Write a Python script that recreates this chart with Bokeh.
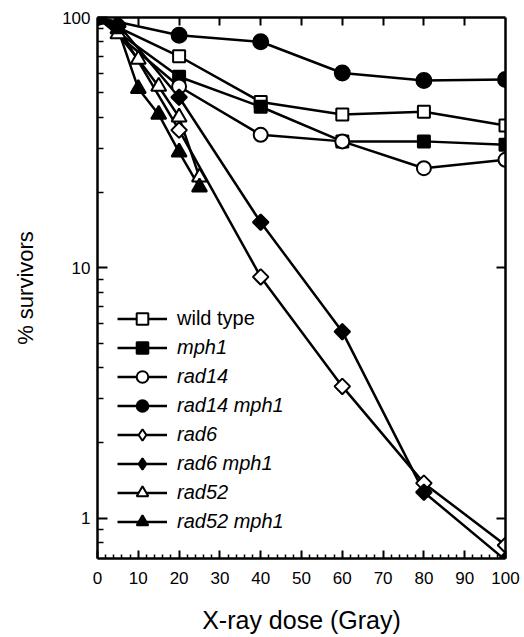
import numpy as np
from bokeh.plotting import figure
from bokeh.models import (LinearAxis, LogAxis, FixedTicker, Legend, LegendItem,
                          NumeralTickFormatter, Range1d)
from bokeh.embed import file_html
from bokeh.resources import INLINE

# ---- data ----
dose_main = [0, 20, 40, 60, 80, 100]
dose_rad6 = [0, 5, 20, 40, 60, 80, 100]
dose_rad52 = [0, 5, 10, 15, 20, 25]

wild_type = [100, 70, 46, 41, 42, 37]
mph1 = [100, 58, 44, 32, 32, 31]
rad14 = [100, 53, 34, 32, 25, 27]
rad14_mph1 = [100, 85, 80, 60, 56, 56.5]
rad6 = [100, 92, 35.5, 9.2, 3.36, 1.38, 0.78]
rad6_mph1 = [100, 94, 48, 15.2, 5.56, 1.27, 0.68]
rad52 = [100, 86, 68, 53, 40, 23]
rad52_mph1 = [100, 90, 52, 41, 29, 21]

series_labels = ["wild type", "mph1", "rad14", "rad14 mph1",
                 "rad6", "rad6 mph1", "rad52", "rad52 mph1"]

x_ticks = list(range(0, 101, 10))
x_minor = [v for v in range(0, 101, 2) if v % 10 != 0]
y_ticks = [1, 10, 100]
y_minor = [0.8, 0.9] + list(range(2, 10)) + list(range(20, 100, 10))
x_title = "X-ray dose (Gray)"
y_title = "% survivors"

FONT = "Liberation Sans"

p = figure(width=523, height=636, output_backend="svg", toolbar_location=None,
           y_axis_type="log", x_range=Range1d(0, 100), y_range=Range1d(0.69, 100),
           min_border_left=97, min_border_right=18, min_border_top=17,
           min_border_bottom=76)
p.xgrid.visible = False
p.ygrid.visible = False
p.outline_line_color = None
p.background_fill_color = "white"

def style_axis(ax, tick_in, minor_in):
    ax.axis_line_width = 2.5
    ax.axis_line_color = "black"
    ax.major_tick_in = tick_in
    ax.major_tick_out = 0
    ax.minor_tick_in = minor_in
    ax.minor_tick_out = 0
    ax.major_tick_line_width = 2
    ax.minor_tick_line_width = 1.5
    ax.major_tick_line_color = "black"
    ax.minor_tick_line_color = "black"
    ax.major_label_text_font = FONT
    ax.major_label_text_color = "black"
    ax.major_label_text_font_size = "17px"
    ax.axis_label_text_font = FONT
    ax.axis_label_text_font_style = "normal"
    ax.axis_label_text_color = "black"

# bottom
xa = p.xaxis[0]
xa.ticker = FixedTicker(ticks=x_ticks, minor_ticks=x_minor)
style_axis(xa, 8, 4)
xa.major_label_standoff = 13
xa.major_label_text_line_height = 1.0
xa.axis_label = x_title
xa.axis_label_text_font_size = "25px"
xa.axis_label_text_line_height = 1.0
xa.axis_label_standoff = 19

# left
ya = p.yaxis[0]
ya.ticker = FixedTicker(ticks=y_ticks, minor_ticks=y_minor)
ya.formatter = NumeralTickFormatter(format="0")
style_axis(ya, 10, 6)
ya.major_label_standoff = 7
ya.axis_label = y_title
ya.axis_label_text_font_size = "22px"
ya.axis_label_standoff = 21

# top spine: ticks only (given as minor ticks so that no labels are made)
ta = LinearAxis(ticker=FixedTicker(ticks=[], minor_ticks=x_ticks[1:-1]))
style_axis(ta, 0, 8)
ta.minor_tick_line_width = 2
p.add_layout(ta, "above")

# right spine: ticks at 1 and 10 only
ra = LogAxis(ticker=FixedTicker(ticks=[], minor_ticks=[1, 10]))
style_axis(ra, 0, 9)
ra.minor_tick_line_width = 2
p.add_layout(ra, "right")

# ---- series ----
specs = [
    (dose_main, wild_type, "square", "white", 12, 0),
    (dose_main, mph1, "square", "black", 12, 0),
    (dose_main, rad14, "circle", "white", 14, 0),
    (dose_main, rad14_mph1, "circle", "black", 15, 0),
    (dose_rad6, rad6, "square", "white", 11, np.pi / 4),
    (dose_rad6, rad6_mph1, "square", "black", 11, np.pi / 4),
    (dose_rad52, rad52, "triangle", "white", 15, 0),
    (dose_rad52, rad52_mph1, "triangle", "black", 15, 0),
]

lines = []
for xs, ys, m, fc, sz, ang in specs:
    lines.append(p.line(xs, ys, line_color="black", line_width=2.5))

# the legend does not rotate markers, so the rad6 entries get a diamond
# renderer as key symbol (drawn beneath the rotated squares, which cover it)
legend_marks = [None] * len(specs)
for i in (4, 5):
    xs, ys, m, fc, sz, ang = specs[i]
    legend_marks[i] = p.scatter(xs, ys, marker="diamond", size=14,
                                fill_color=fc, line_color="black",
                                line_width=2)

marks = []
for xs, ys, m, fc, sz, ang in specs:
    marks.append(p.scatter(xs, ys, marker=m, size=sz, angle=ang,
                           fill_color=fc, line_color="black", line_width=2))
for i in range(len(specs)):
    if legend_marks[i] is None:
        legend_marks[i] = marks[i]

def make_legend(idx, loc, style):
    items = [LegendItem(label=series_labels[i],
                        renderers=[lines[i], legend_marks[i]]) for i in idx]
    lg = Legend(items=items, location=loc, orientation="vertical",
                glyph_width=50, glyph_height=29, label_height=29, spacing=0,
                padding=0, margin=0, label_standoff=10,
                border_line_color=None, background_fill_alpha=0,
                label_text_font=FONT, label_text_font_size="20px",
                label_text_font_style=style, label_text_color="black")
    p.add_layout(lg, "center")

make_legend([0], (20, 225), "normal")
make_legend(list(range(1, 8)), (20, 22), "italic")

open("out.html", "w").write(file_html(p, INLINE))
